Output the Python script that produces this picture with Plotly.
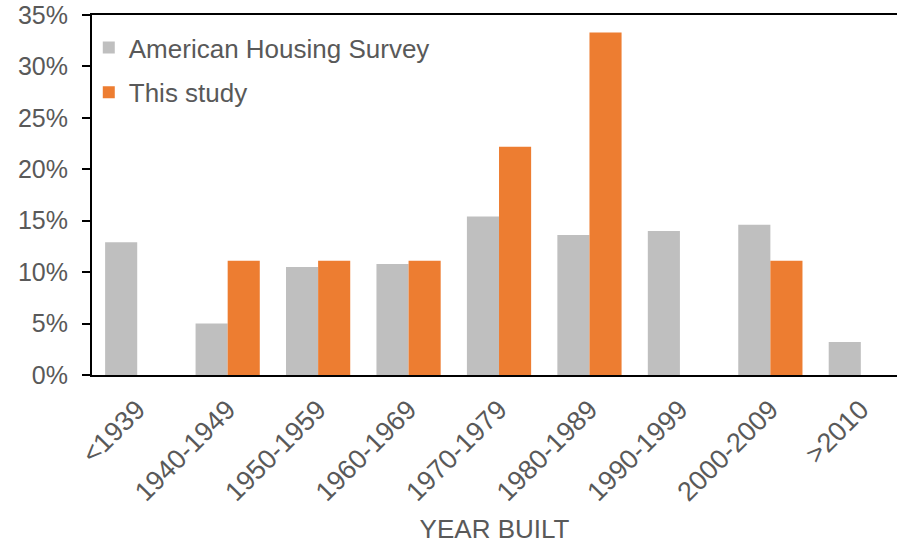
import plotly.graph_objects as go

categories = ["<1939", "1940-1949", "1950-1959", "1960-1969", "1970-1979",
              "1980-1989", "1990-1999", "2000-2009", ">2010"]
ahs_values = [12.9, 5.0, 10.5, 10.8, 15.4, 13.6, 14.0, 14.6, 3.2]
study_values = [None, 11.1, 11.1, 11.1, 22.2, 33.3, None, 11.1, None]
y_ticks = [0, 5, 10, 15, 20, 25, 30, 35]
y_tick_labels = [f"{v}%" for v in y_ticks]

FONT = "Liberation Sans, Arial, sans-serif"
TXT = "#595959"

fig = go.Figure()
fig.add_trace(go.Bar(x=categories, y=ahs_values, name="American Housing Survey",
                     marker=dict(color="#BFBFBF", line=dict(width=0)),
                     legendgroup="a"))
fig.add_trace(go.Bar(x=categories, y=study_values, name="This study",
                     marker=dict(color="#ED7D31", line=dict(width=0)),
                     legendgroup="b"))

fig.update_layout(
    width=897, height=547,
    margin=dict(l=92, r=0, t=15, b=172),
    paper_bgcolor="white", plot_bgcolor="white",
    barmode="group", bargap=0.29, bargroupgap=0,
    font=dict(family=FONT, size=24, color=TXT),
    showlegend=True,
    legend=dict(x=-0.004, y=0.975, xanchor="left", yanchor="top",
                bgcolor="rgba(0,0,0,0)", font=dict(size=26, color=TXT),
                traceorder="grouped", tracegroupgap=8, itemwidth=30),
    xaxis=dict(type="category", range=[-0.5, 8.4], showline=True,
               linecolor="black", linewidth=2, mirror=True, ticks="",
               tickangle=-45, tickfont=dict(size=27, color=TXT),
               ticklabelstandoff=6,
               title=dict(text="YEAR BUILT", font=dict(size=26, color=TXT),
                          standoff=14),
               showgrid=False),
    yaxis=dict(range=[0, 35], tickvals=y_ticks, ticktext=y_tick_labels,
               showline=True, linecolor="black", linewidth=2, mirror=False,
               ticks="outside", ticklen=8, tickcolor="black", tickwidth=1.5,
               tickfont=dict(size=25, color=TXT), ticklabelstandoff=9,
               showgrid=False, zeroline=False),
)

fig.write_html("out.html", config={"displayModeBar": False},
               post_script="document.body.style.margin='0';")
